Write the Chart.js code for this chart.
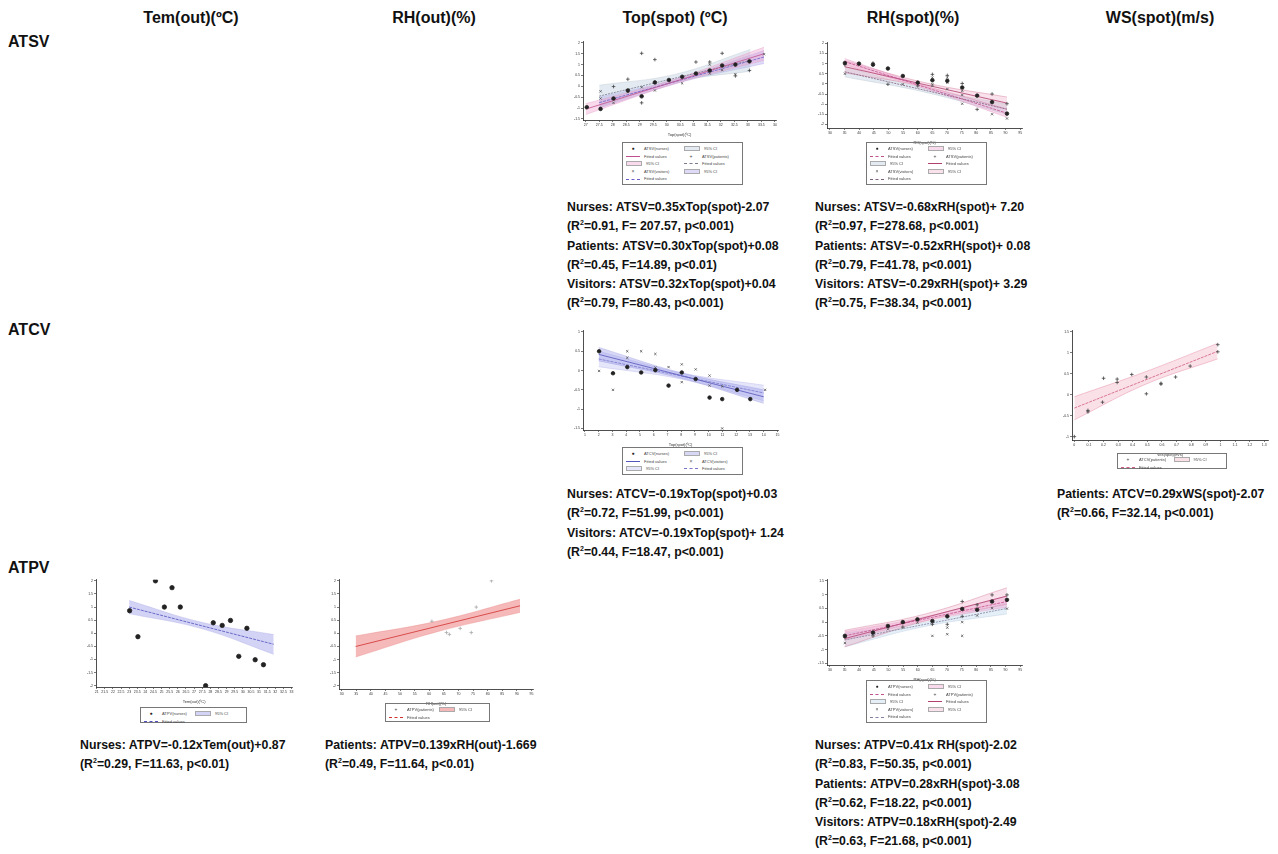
<!DOCTYPE html>
<html><head><meta charset="utf-8">
<script src="https://cdn.jsdelivr.net/npm/chart.js@4.4.0/dist/chart.umd.min.js"></script>
<style>
body{margin:0;background:#fff;width:1278px;height:854px;position:relative;overflow:hidden;font-family:"Liberation Sans",Arial,sans-serif;}
.hdr{position:absolute;font-weight:bold;font-size:16px;line-height:16px;color:#111;white-space:nowrap;transform:translateX(-50%);}
.row{position:absolute;font-weight:bold;font-size:16px;line-height:16px;color:#111;}
.eq{position:absolute;font-weight:bold;font-size:12.3px;line-height:19.3px;color:#111;white-space:nowrap;}
.eq sup{font-size:7px;line-height:0;vertical-align:5px;}
.cv{position:absolute;}
.lg{position:absolute;border:1px solid #777;box-sizing:border-box;display:grid;grid-template-columns:1fr 1fr;align-content:start;padding:2px 3px;column-gap:3px;font-size:4px;line-height:7.6px;color:#444;}
.lg div{white-space:nowrap;display:flex;align-items:center;}
.sw{display:inline-block;width:14px;height:3px;margin-right:4px;}
</style></head><body>
<div class="hdr" style="left:191px;top:10px">Tem(out)(ºC)</div>
<div class="hdr" style="left:434px;top:10px">RH(out)(%)</div>
<div class="hdr" style="left:675px;top:10px">Top(spot) (ºC)</div>
<div class="hdr" style="left:913px;top:10px">RH(spot)(%)</div>
<div class="hdr" style="left:1160px;top:10px">WS(spot)(m/s)</div>
<div class="row" style="left:8px;top:34px">ATSV</div>
<div class="row" style="left:8px;top:322px">ATCV</div>
<div class="row" style="left:8px;top:560px">ATPV</div>

<div class="eq" style="left:567px;top:198px">Nurses: ATSV=0.35xTop(spot)-2.07<br>(R<sup>2</sup>=0.91, F= 207.57, p&lt;0.001)<br>Patients: ATSV=0.30xTop(spot)+0.08<br>(R<sup>2</sup>=0.45, F=14.89, p&lt;0.01)<br>Visitors: ATSV=0.32xTop(spot)+0.04<br>(R<sup>2</sup>=0.79, F=80.43, p&lt;0.001)</div>
<div class="eq" style="left:815px;top:198px">Nurses: ATSV=-0.68xRH(spot)+ 7.20<br>(R<sup>2</sup>=0.97, F=278.68, p&lt;0.001)<br>Patients: ATSV=-0.52xRH(spot)+ 0.08<br>(R<sup>2</sup>=0.79, F=41.78, p&lt;0.001)<br>Visitors: ATSV=-0.29xRH(spot)+ 3.29<br>(R<sup>2</sup>=0.75, F=38.34, p&lt;0.001)</div>
<div class="eq" style="left:567px;top:485px">Nurses: ATCV=-0.19xTop(spot)+0.03<br>(R<sup>2</sup>=0.72, F=51.99, p&lt;0.001)<br>Visitors: ATCV=-0.19xTop(spot)+ 1.24<br>(R<sup>2</sup>=0.44, F=18.47, p&lt;0.001)</div>
<div class="eq" style="left:1057px;top:485px">Patients: ATCV=0.29xWS(spot)-2.07<br>(R<sup>2</sup>=0.66, F=32.14, p&lt;0.001)</div>
<div class="eq" style="left:80px;top:736px">Nurses: ATPV=-0.12xTem(out)+0.87<br>(R<sup>2</sup>=0.29, F=11.63, p&lt;0.01)</div>
<div class="eq" style="left:325px;top:736px">Patients: ATPV=0.139xRH(out)-1.669<br>(R<sup>2</sup>=0.49, F=11.64, p&lt;0.01)</div>
<div class="eq" style="left:815px;top:736px">Nurses: ATPV=0.41x RH(spot)-2.02<br>(R<sup>2</sup>=0.83, F=50.35, p&lt;0.001)<br>Patients: ATPV=0.28xRH(spot)-3.08<br>(R<sup>2</sup>=0.62, F=18.22, p&lt;0.001)<br>Visitors: ATPV=0.18xRH(spot)-2.49<br>(R<sup>2</sup>=0.63, F=21.68, p&lt;0.001)</div>

<script>
// ---------- DATA ----------
// Panel A: ATSV vs Top(spot)
const aXTicks=[27,27.5,28,28.5,29,29.5,30,30.5,31,31.5,32,32.5,33,33.5,34];
const aYTicks=[-1.5,-1,-0.5,0,0.5,1,1.5,2];
const aNurX=[27.04,27.55,28.03,28.56,29.07,29.56,30.08,30.57,31.08,31.59,32.05,32.54,33.06];
const aNurY=[-0.96,-1.04,-0.56,-0.19,-0.46,0.18,0.29,0.44,0.59,0.73,0.96,1.0,1.15];
const aPatX=[28.03,28.56,29.07,29.56,31.08,31.59,32.05,33.06,29.07,32.54];
const aPatY=[-0.01,0.33,1.52,1.23,1.12,1.12,1.52,0.73,-0.76,0.48];
const aVisX=[27.55,27.55,28.03,28.56,29.07,29.56,30.57,31.59,31.59,32.05,32.54,33.6];
const aVisY=[-0.23,-0.56,-0.76,-0.26,-0.04,-0.19,0.14,1.0,0.59,0.75,0.56,1.48];
const aNurFitX=[27,33.6], aNurFitY=[-1.05,1.5];
const aPatFitX=[27.5,33.1], aPatFitY=[-0.45,1.2];
const aVisFitX=[27.5,33.6], aVisFitY=[-0.75,1.35];
const aNurBandX=[27,30.3,33.6], aNurBandLo=[-1.3,0.12,1.2], aNurBandHi=[-0.8,0.33,1.8];
const aPatBandX=[27.5,30.3,33.1], aPatBandLo=[-0.95,0.2,0.7], aPatBandHi=[0.05,0.55,1.7];
const aVisBandX=[27.5,30.55,33.6], aVisBandLo=[-1.0,0.2,1.05], aVisBandHi=[-0.5,0.4,1.65];

// Panel B: ATSV vs RH(spot)
const bXTicks=[30,35,40,45,50,55,60,65,70,75,80,85,90,95];
const bYTicks=[-2,-1.5,-1,-0.5,0,0.5,1,1.5,2];
const bNurX=[35.1,39.9,44.7,49.8,54.9,60.0,65.0,70.1,75.2,80.3,85.4,90.5];
const bNurY=[1.03,1.0,0.95,0.76,0.39,0.06,0.18,0.15,-0.18,-0.58,-0.9,-1.47];
const bPatX=[35.1,44.7,49.8,60.0,65.0,70.1,75.2,80.3,85.4,90.5];
const bPatY=[0.95,1.03,-0.02,-0.1,0.47,0.42,0.02,-1.26,-0.5,-0.98];
const bVisX=[35.1,54.9,65.0,65.0,65.0,70.1,70.1,70.1,75.2,75.2,75.2,85.4,90.5];
const bVisY=[0.5,-0.02,0.31,-0.02,-0.1,0.31,0.06,-0.26,-0.34,-0.55,-0.98,-1.5,-1.71];
const bNurFitX=[35,90.5], bNurFitY=[1.1,-1.45];
const bPatFitX=[35,90.5], bPatFitY=[0.85,-0.95];
const bVisFitX=[35,90.5], bVisFitY=[0.6,-1.25];
const bNurBandX=[35,62.75,90.5], bNurBandLo=[0.95,-0.25,-1.65], bNurBandHi=[1.25,-0.1,-1.25];
const bPatBandX=[35,62.75,90.5], bPatBandLo=[0.55,-0.15,-1.25], bPatBandHi=[1.15,0.05,-0.65];
const bVisBandX=[35,62.75,90.5], bVisBandLo=[0.35,-0.42,-1.5], bVisBandHi=[0.85,-0.23,-1.0];

// Panel C: ATCV vs Top(spot)
const cXTicks=[1,2,3,4,5,6,7,8,9,10,11,12,13,14,15];
const cYTicks=[-1.5,-1,-0.5,0,0.5,1];
const cNurX=[2.03,3.04,4.08,5.09,6.12,7.08,8.04,9.05,10.06,10.98,12.06,13.02];
const cNurY=[0.5,-0.07,0.09,-0.05,0.01,-0.39,-0.05,-0.22,-0.7,-0.74,-0.5,-0.74];
const cVisX=[2.03,3.04,4.08,4.08,5.09,6.12,6.12,7.08,8.04,8.04,9.05,10.06,10.06,10.98,10.98,14.1];
const cVisY=[-0.01,-0.5,0.5,0.33,0.5,0.43,0.08,0.09,0.16,-0.3,0.03,-0.13,-0.39,-0.41,-1.5,-0.5];
const cNurFitX=[2,14], cNurFitY=[0.42,-0.68];
const cVisFitX=[2,14], cVisFitY=[0.3,-0.58];
const cNurBandX=[2,8,14], cNurBandLo=[0.25,-0.2,-0.85], cNurBandHi=[0.6,-0.06,-0.5];
const cVisBandX=[2,8,14], cVisBandLo=[0.1,-0.22,-0.78], cVisBandHi=[0.5,-0.06,-0.38];

// Panel D: ATCV vs WS(spot)
const dXTicks=[0,0.1,0.2,0.3,0.4,0.5,0.6,0.7,0.8,0.9,1.0,1.1,1.2,1.3];
const dYTicks=[-1,-0.5,0,0.5,1,1.5];
const dPatX=[0,0.093,0.093,0.193,0.2,0.293,0.293,0.393,0.493,0.493,0.593,0.593,0.693,0.793,0.982,0.982];
const dPatY=[-1.0,-0.375,-0.41,-0.18,0.39,0.37,0.29,0.48,0.42,0.02,0.27,0.25,0.42,0.68,1.02,1.19];
const dPatFitX=[0,0.98], dPatFitY=[-0.32,1.03];
const dPatBandX=[0,0.49,0.98], dPatBandLo=[-0.6,0.25,0.85], dPatBandHi=[-0.05,0.55,1.22];

// Panel E: ATPV vs Tem(out)
const eXTicks=[21,21.5,22,22.5,23,23.5,24,24.5,25,25.5,26,26.5,27,27.5,28,28.5,29,29.5,30,30.5,31,31.5,32,32.5,33];
const eYTicks=[-2,-1.5,-1,-0.5,0,0.5,1,1.5,2];
const eNurX=[23.03,23.54,24.62,25.17,25.64,26.15,27.71,28.18,28.73,29.24,29.75,30.25,30.76,31.27];
const eNurY=[0.86,-0.13,2.0,1.0,1.74,1.0,-2.0,0.4,0.3,0.49,-0.88,0.19,-1.01,-1.2];
const eNurFitX=[23,31.9], eNurFitY=[1.0,-0.42];
const eNurBandX=[23,27.45,31.9], eNurBandLo=[0.75,0.18,-0.8], eNurBandHi=[1.25,0.42,-0.05];

// Panel F: ATPV vs RH(out)
const fXTicks=[30,35,40,45,50,55,60,65,70,75,80,85,90,95];
const fYTicks=[-2,-1.5,-1,-0.5,0,0.5,1,1.5,2];
const fPatX=[60.9,65.9,66.9,70.6,74.4,76.1,81.3];
const fPatY=[0.46,0.03,-0.04,0.19,0.03,1.0,2.0];
const fPatFitX=[34.8,91.1], fPatFitY=[-0.5,1.05];
const fPatBandX=[34.8,63,91.1], fPatBandLo=[-0.9,0.07,0.8], fPatBandHi=[-0.1,0.47,1.3];

// Panel G: ATPV vs RH(spot)
const gXTicks=[30,35,40,45,50,55,60,65,70,75,80,85,90,95];
const gYTicks=[-1.5,-1,-0.5,0,0.5,1,1.5];
const gNurX=[35.1,44.7,49.8,54.9,59.9,65.0,70.1,75.2,80.3,85.4,90.5];
const gNurY=[-0.5,-0.38,-0.14,0.0,0.1,0.04,0.21,0.48,0.45,0.75,0.81];
const gPatX=[35.1,44.7,54.9,65.0,70.1,75.2,75.2,80.3,85.4,90.5];
const gPatY=[-0.56,-0.5,-0.18,-0.08,-0.08,0.75,0.21,0.63,0.99,0.99];
const gVisX=[35.1,49.8,59.9,65.0,70.1,70.1,75.2,75.2,80.3,85.4,90.5];
const gVisY=[-0.76,-0.26,-0.02,-0.5,-0.2,-0.44,0.0,-0.5,0.24,0.51,0.49];
const gNurFitX=[35,90.5], gNurFitY=[-0.5,0.75];
const gPatFitX=[35,90.5], gPatFitY=[-0.6,0.95];
const gVisFitX=[35,90.5], gVisFitY=[-0.65,0.5];
const gNurBandX=[35,62.75,90.5], gNurBandLo=[-0.65,0.05,0.55], gNurBandHi=[-0.35,0.2,0.95];
const gPatBandX=[35,62.75,90.5], gPatBandLo=[-0.9,0.05,0.65], gPatBandHi=[-0.3,0.3,1.25];
const gVisBandX=[35,62.75,90.5], gVisBandLo=[-0.9,-0.15,0.3], gVisBandHi=[-0.4,0.0,0.7];

// ---------- helpers ----------
const zip=(xs,ys)=>xs.map((x,i)=>({x:x,y:ys[i]}));
const fmt=v=>String(Math.round(v*100)/100);
function pts(xs,ys,style,color,r){return {type:'scatter',data:zip(xs,ys),pointStyle:style,pointRadius:r||1.4,borderColor:color,backgroundColor:color,borderWidth:0.8,showLine:false,order:0};}
function fit(xs,ys,color,dash){return {type:'line',data:zip(xs,ys),borderColor:color,borderWidth:0.8,borderDash:dash||[],pointRadius:0,fill:false,order:1};}
function band(xs,lo,hi,fillC,edgeC){return [
 {type:'line',data:zip(xs,lo),borderColor:edgeC,borderWidth:0.4,pointRadius:0,tension:0.4,fill:false,order:2},
 {type:'line',data:zip(xs,hi),borderColor:edgeC,borderWidth:0.4,pointRadius:0,tension:0.4,fill:'-1',backgroundColor:fillC,order:2}];}

function panel(box,xmin,xmax,ymin,ymax,xTicks,yTicks,xTitle,datasets){
 const yw=16,xh=17,pt=3,pr=3;
 const W=box.R-box.L+yw+pr, H=box.B-box.T+pt+xh;
 const d=document.createElement('div');d.className='cv';
 d.style.left=(box.L-yw)+'px';d.style.top=(box.T-pt)+'px';d.style.width=W+'px';d.style.height=H+'px';
 const c=document.createElement('canvas');
 c.width=W;c.height=H;c.style.width=W+'px';c.style.height=H+'px';
 d.appendChild(c);document.body.appendChild(d);
 const tickFont={size:3.5,family:'Liberation Sans'};
 new Chart(c,{data:{datasets:datasets},options:{
  responsive:false,maintainAspectRatio:false,animation:false,devicePixelRatio:1,
  layout:{padding:{top:pt,right:pr,left:0,bottom:0}},
  plugins:{legend:{display:false},tooltip:{enabled:false}},
  scales:{
   x:{type:'linear',min:xmin,max:xmax,afterBuildTicks:a=>{a.ticks=xTicks.map(v=>({value:v}));},
      afterFit:s=>{s.height=xh;},
      ticks:{font:tickFont,color:'#333',padding:1,maxRotation:0,autoSkip:false,callback:v=>fmt(v)},
      grid:{drawOnChartArea:false,drawTicks:true,tickLength:2,color:'#222',lineWidth:0.6},
      border:{display:true,color:'#222',width:0.8},
      title:{display:true,text:xTitle,font:{size:4,family:'Liberation Sans'},color:'#333',padding:{top:1,bottom:0}}},
   y:{type:'linear',min:ymin,max:ymax,afterBuildTicks:a=>{a.ticks=yTicks.map(v=>({value:v}));},
      afterFit:s=>{s.width=yw;},
      ticks:{font:tickFont,color:'#333',padding:1,autoSkip:false,callback:v=>fmt(v)},
      grid:{drawOnChartArea:false,drawTicks:true,tickLength:2,color:'#222',lineWidth:0.6},
      border:{display:true,color:'#222',width:0.8}}
  }}});
}
function legend(box,items){
 const d=document.createElement('div');d.className='lg';
 d.style.left=box.x+'px';d.style.top=box.y+'px';d.style.width=box.w+'px';d.style.height=box.h+'px';
 items.forEach(it=>{const e=document.createElement('div');
  let sw='';
  if(it.k==='pt') sw='<span class="sw" style="height:auto;text-align:center;font-size:5px;color:'+it.c+'">'+it.s+'</span>';
  else if(it.k==='ln') sw='<span class="sw" style="height:0;border-top:1px '+(it.d?'dashed':'solid')+' '+it.c+'"></span>';
  else if(it.k==='bd') sw='<span class="sw" style="background:'+it.c+';border:0.5px solid #aaa"></span>';
  e.innerHTML=sw+(it.t||'');d.appendChild(e);});
 document.body.appendChild(d);
}

// colours
const PINK='rgba(236,150,200,0.35)',PINKE='#e39ac4',PINKL='#c0508f';
const GREYB='rgba(175,195,215,0.35)',GREYE='#b8c4d0',GREYL='#7a7a90';
const PURB='rgba(160,150,235,0.35)',PURE='#b0a8e8',PURL='#6a5fc8';

// Panel A
panel({L:583,R:778,T:40,B:120},26.9,34.05,-1.55,2.05,aXTicks,aYTicks,'Top(spot)(ºC)',[
 pts(aNurX,aNurY,'circle','#222',1.8),pts(aPatX,aPatY,'cross','#444',1.8),pts(aVisX,aVisY,'crossRot','#555',1.6),
 fit(aNurFitX,aNurFitY,PINKL),fit(aPatFitX,aPatFitY,GREYL,[2,1]),fit(aVisFitX,aVisFitY,PURL,[3,1]),
 ...band(aNurBandX,aNurBandLo,aNurBandHi,PINK,PINKE),...band(aPatBandX,aPatBandLo,aPatBandHi,GREYB,GREYE),...band(aVisBandX,aVisBandLo,aVisBandHi,PURB,PURE)]);
legend({x:622,y:142,w:121,h:43},[
 {k:'pt',s:'●',c:'#222',t:'ATSV(nurses)'},{k:'bd',c:GREYB,t:'95% CI'},
 {k:'ln',c:PINKL,t:'Fitted values'},{k:'pt',s:'+',c:'#444',t:'ATSV(patients)'},
 {k:'bd',c:PINK,t:'95% CI'},{k:'ln',c:GREYL,d:1,t:'Fitted values'},
 {k:'pt',s:'×',c:'#555',t:'ATSV(visitors)'},{k:'bd',c:PURB,t:'95% CI'},
 {k:'ln',c:PURL,d:1,t:'Fitted values'}]);

// Panel B
panel({L:827,R:1024,T:41,B:128},28.98,95.7,-2.18,2.03,bXTicks,bYTicks,'RH(spot)(%)',[
 pts(bNurX,bNurY,'circle','#222',1.8),pts(bPatX,bPatY,'cross','#444',1.8),pts(bVisX,bVisY,'crossRot','#555',1.6),
 fit(bNurFitX,bNurFitY,PINKL,[3,1]),fit(bPatFitX,bPatFitY,'#b04070'),fit(bVisFitX,bVisFitY,'#806080',[2,1]),
 ...band(bNurBandX,bNurBandLo,bNurBandHi,PINK,PINKE),...band(bPatBandX,bPatBandLo,bPatBandHi,'rgba(236,160,190,0.3)','#d07090'),...band(bVisBandX,bVisBandLo,bVisBandHi,GREYB,GREYE)]);
legend({x:866,y:142,w:121,h:43},[
 {k:'pt',s:'●',c:'#222',t:'ATSV(nurses)'},{k:'bd',c:PINK,t:'95% CI'},
 {k:'ln',c:PINKL,d:1,t:'Fitted values'},{k:'pt',s:'+',c:'#444',t:'ATSV(patients)'},
 {k:'bd',c:GREYB,t:'95% CI'},{k:'ln',c:'#b04070',t:'Fitted values'},
 {k:'pt',s:'×',c:'#555',t:'ATSV(visitors)'},{k:'bd',c:'rgba(236,160,190,0.3)',t:'95% CI'},
 {k:'ln',c:'#806080',d:1,t:'Fitted values'}]);

// Panel C
const BLB='rgba(150,150,232,0.38)',BLE='#9c9ce0',BLL='#5555bb';
const BLB2='rgba(190,190,242,0.38)',BLE2='#b8b8ee',BLL2='#7777cc';
panel({L:583,R:780,T:329,B:430},0.86,15.05,-1.54,1.03,cXTicks,cYTicks,'Top(spot)(ºC)',[
 pts(cNurX,cNurY,'circle','#222',1.8),pts(cVisX,cVisY,'crossRot','#555',1.6),
 fit(cNurFitX,cNurFitY,BLL),fit(cVisFitX,cVisFitY,BLL2,[3,1]),
 ...band(cNurBandX,cNurBandLo,cNurBandHi,BLB,BLE),...band(cVisBandX,cVisBandLo,cVisBandHi,BLB2,BLE2)]);
legend({x:622,y:447,w:121,h:28},[
 {k:'pt',s:'●',c:'#222',t:'ATCV(nurses)'},{k:'bd',c:BLB,t:'95% CI'},
 {k:'ln',c:BLL,t:'Fitted values'},{k:'pt',s:'×',c:'#555',t:'ATCV(visitors)'},
 {k:'bd',c:BLB2,t:'95% CI'},{k:'ln',c:BLL2,d:1,t:'Fitted values'}]);

// Panel D
const PKB='rgba(240,170,190,0.35)',PKE='#e07a98',PKL='#d05a80';
panel({L:1072,R:1270,T:329,B:440},-0.016,1.327,-1.08,1.52,dXTicks,dYTicks,'WS(spot)(m/s)',[
 pts(dPatX,dPatY,'cross','#444',1.8),
 fit(dPatFitX,dPatFitY,PKL,[3,1]),
 ...band(dPatBandX,dPatBandLo,dPatBandHi,PKB,PKE)]);
legend({x:1117,y:453,w:110,h:16},[
 {k:'pt',s:'+',c:'#444',t:'ATCV(patients)'},{k:'bd',c:PKB,t:'95% CI'},
 {k:'ln',c:PKL,d:1,t:'Fitted values'}]);

// Panel E
const EB='rgba(140,140,228,0.38)',EE='#a8a8e8',EL='#5050c0';
panel({L:96,R:294,T:578,B:687},20.96,33.04,-2.05,2.04,eXTicks,eYTicks,'Tem(out)(ºC)',[
 pts(eNurX,eNurY,'circle','#222',2.2),
 fit(eNurFitX,eNurFitY,EL,[3,1]),
 ...band(eNurBandX,eNurBandLo,eNurBandHi,EB,EE)]);
legend({x:140,y:707,w:107,h:16},[
 {k:'pt',s:'●',c:'#222',t:'ATPV(nurses)'},{k:'bd',c:EB,t:'95% CI'},
 {k:'ln',c:EL,d:1,t:'Fitted values'}]);

// Panel F
const FB='rgba(236,100,100,0.45)',FE='#e88080',FL='#d03030';
panel({L:339,R:535,T:578,B:689},29.1,95.6,-2.12,2.04,fXTicks,fYTicks,'RH(out)(%)',[
 pts(fPatX,fPatY,'cross','#aaa',1.8),
 fit(fPatFitX,fPatFitY,FL),
 ...band(fPatBandX,fPatBandLo,fPatBandHi,FB,FE)]);
legend({x:385,y:703,w:105,h:19},[
 {k:'pt',s:'+',c:'#444',t:'ATPV(patients)'},{k:'bd',c:FB,t:'95% CI'},
 {k:'ln',c:FL,d:1,t:'Fitted values'}]);

// Panel G
panel({L:827,R:1024,T:578,B:665},28.98,95.7,-1.56,1.54,gXTicks,gYTicks,'RH(spot)(%)',[
 pts(gNurX,gNurY,'circle','#222',1.8),pts(gPatX,gPatY,'cross','#444',1.8),pts(gVisX,gVisY,'crossRot','#555',1.6),
 fit(gNurFitX,gNurFitY,PINKL,[3,1]),fit(gPatFitX,gPatFitY,'#b04070'),fit(gVisFitX,gVisFitY,'#8080a0',[2,1]),
 ...band(gNurBandX,gNurBandLo,gNurBandHi,PINK,PINKE),...band(gPatBandX,gPatBandLo,gPatBandHi,'rgba(236,160,190,0.3)','#d07090'),...band(gVisBandX,gVisBandLo,gVisBandHi,'rgba(190,215,235,0.4)','#b8cce0')]);
legend({x:866,y:680,w:121,h:43},[
 {k:'pt',s:'●',c:'#222',t:'ATPV(nurses)'},{k:'bd',c:PINK,t:'95% CI'},
 {k:'ln',c:PINKL,d:1,t:'Fitted values'},{k:'pt',s:'+',c:'#444',t:'ATPV(patients)'},
 {k:'bd',c:'rgba(190,215,235,0.4)',t:'95% CI'},{k:'ln',c:'#b04070',t:'Fitted values'},
 {k:'pt',s:'×',c:'#555',t:'ATPV(visitors)'},{k:'bd',c:'rgba(236,160,190,0.3)',t:'95% CI'},
 {k:'ln',c:'#8080a0',d:1,t:'Fitted values'}]);
</script>
</body></html>
